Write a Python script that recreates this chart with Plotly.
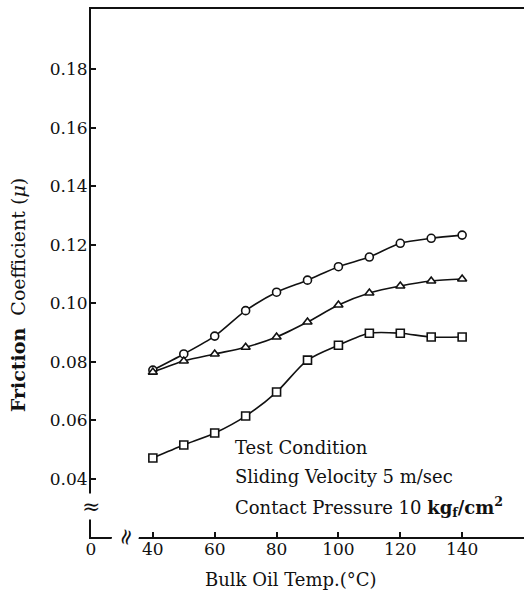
import plotly.graph_objects as go

temps = [40, 50, 60, 70, 80, 90, 100, 110, 120, 130, 140]
mu_circle = [0.0772, 0.0827, 0.0888, 0.0975, 0.1038, 0.1079, 0.1125, 0.1158, 0.1205, 0.1222, 0.1233]
mu_triangle = [0.0765, 0.0803, 0.0827, 0.0850, 0.0885, 0.0936, 0.0994, 0.1035, 0.1059, 0.1076, 0.1083]
mu_square = [0.0472, 0.0516, 0.0557, 0.0615, 0.0697, 0.0806, 0.0857, 0.0898, 0.0898, 0.0885, 0.0885]

x_tickvals = [20, 40, 60, 80, 100, 120, 140]
x_ticktext = ["0", "40", "60", "80", "100", "120", "140"]
y_tickvals = [0.04, 0.06, 0.08, 0.10, 0.12, 0.14, 0.16, 0.18]
y_ticktext = ["0.04", "0.06", "0.08", "0.10", "0.12", "0.14", "0.16", "0.18"]

FONT = "DejaVu Serif, serif"
INK = "#111111"

fig = go.Figure()
series = [
    (mu_circle, "circle"),
    (mu_triangle, "triangle-up"),
    (mu_square, "square"),
]
for vals, sym in series:
    fig.add_trace(go.Scatter(
        x=temps, y=vals, mode="lines+markers",
        line=dict(color=INK, width=1.6, shape="spline", smoothing=0.8),
        marker=dict(symbol=sym, size=8, color="white", line=dict(color=INK, width=1.6)),
        showlegend=False, hoverinfo="skip",
    ))

fig.update_layout(
    width=524, height=595,
    margin=dict(l=91, r=0, t=9, b=58),
    paper_bgcolor="white", plot_bgcolor="white",
    font=dict(family=FONT, color=INK, size=17),
    xaxis=dict(
        range=[20, 160], tickvals=x_tickvals, ticktext=x_ticktext,
        showgrid=False, zeroline=False, showline=True, mirror=True,
        linecolor=INK, linewidth=2, ticks="inside", ticklen=5, tickwidth=1.5,
        tickcolor=INK, tickfont=dict(family=FONT, size=17, color=INK),
        ticklabelstandoff=-4,
    ),
    yaxis=dict(
        range=[0.0202, 0.2005], tickvals=y_tickvals, ticktext=y_ticktext,
        showgrid=False, zeroline=False, showline=True, mirror=False,
        linecolor=INK, linewidth=2, ticks="inside", ticklen=5, tickwidth=1.5,
        tickcolor=INK, tickfont=dict(family=FONT, size=17, color=INK),
        ticklabelstandoff=-2,
    ),
)

ann = []
# axis titles
ann.append(dict(xref="paper", yref="paper", x=-0.1686, y=0.458,
                text="<b>Friction</b>  Coefficient (<i>μ</i>)", textangle=-90,
                showarrow=False, font=dict(family=FONT, size=19, color=INK),
                xanchor="center", yanchor="middle"))
ann.append(dict(xref="paper", yref="paper", x=0.462, y=-0.081,
                text="Bulk Oil Temp.(°C)", showarrow=False,
                font=dict(family=FONT, size=18, color=INK),
                xanchor="center", yanchor="middle"))
# test condition block
cond_lines = ["Test Condition", "Sliding Velocity 5 m/sec",
              "Contact Pressure 10 <b>kg<sub>f</sub>/cm<sup>2</sup></b>"]
cond_y = [0.0506, 0.0407, 0.0304]
for t, yy in zip(cond_lines, cond_y):
    ann.append(dict(xref="x", yref="y", x=66, y=yy, text=t, showarrow=False,
                    xanchor="left", yanchor="middle",
                    font=dict(family=FONT, size=18, color=INK)))
# axis break symbols
ann.append(dict(xref="paper", yref="y", x=0, y=0.0305, text="≈", showarrow=False,
                xanchor="center", yanchor="middle", bgcolor="white",
                font=dict(family="DejaVu Serif", size=22, color=INK), borderpad=0))
ann.append(dict(xref="x", yref="paper", x=31, y=0, text="≈", showarrow=False,
                textangle=-75, xanchor="center", yanchor="middle", bgcolor="white",
                font=dict(family="DejaVu Serif", size=22, color=INK), borderpad=0))
fig.update_layout(annotations=ann)

fig.write_html("out.html", config={"displayModeBar": False},
               post_script="document.body.style.margin='0px';")
